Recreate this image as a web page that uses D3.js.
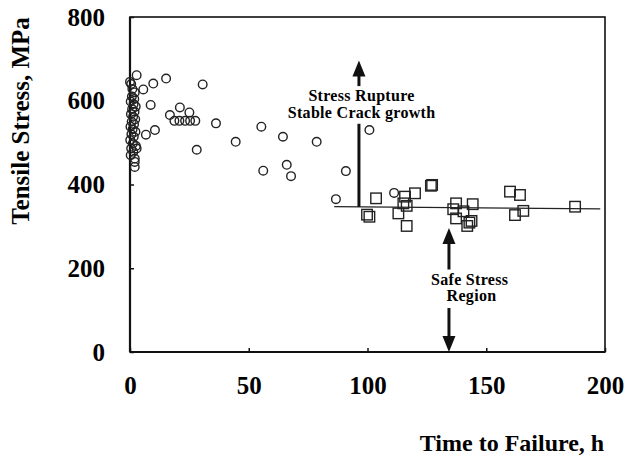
<!DOCTYPE html>
<html><head><meta charset="utf-8">
<script src="https://cdn.jsdelivr.net/npm/d3@7"></script>
<style>body{margin:0;background:#fff}svg{display:block}text{font-family:"Liberation Serif","Times New Roman",serif;font-weight:bold;fill:#000}</style>
</head><body><svg id="c" width="630" height="463"></svg>
<script>
// Stress rupture data (circles): time to failure (h), stress (MPa)
const ruptureTime = [0.5,1,2,0.8,1.8,0.3,1.5,2.4,0.9,1.9,0.4,1.3,2.2,0.7,1.7,0.2,1.1,2.3,0.6,1.6,0.1,1.2,2.5,0.5,1.4,0.3,2.8,2,2,2,
  0,2.8,5.6,9.8,15.2,30.6,8.7,21,25,16.8,18.7,20.8,23.2,25.3,27.5,36.2,55.3,64.4,10.5,6.7,44.5,28.1,56.1,66,67.8,78.6,100.8,90.9,86.7,111.2];
const ruptureStress = [640,628,620,610,604,598,592,586,580,574,568,562,556,550,544,538,532,526,520,514,506,498,492,486,478,470,486,454,442,462,
  645,661,627,641,653,639,590,584,572,566,552,552,552,552,552,546,538,514,530,519,502,483,433,447,420,502,530,432,365,380];
// Safe region data (squares)
const safeTime = [103.6,100.8,99.8,115.8,120,115.1,116.5,113,116.5,126.7,127.2,137.3,136.1,137.3,144.3,140.4,142.9,143.8,142,160,164.2,162.1,165.6,187.4];
const safeStress = [367,323,328,371,379,355,349,331,301,397,399,355,341,319,353,336,309,313,301,383,375,327,337,347];
// Axis ticks
const xTicks = [0,50,100,150,200];
const yTicks = [0,200,400,600,800];
// Threshold lines
const threshTime = [86,198];
const threshStress = [347,342];
const splitTime = 96.4, splitTop = 545;
const safeArrowTime = 134.3;

const svg = d3.select("#c");
const m = {l:130,t:17,r:25,b:111};
const W = 630-m.l-m.r, H = 463-m.t-m.b;
const x = d3.scaleLinear().domain([0,200]).range([m.l,m.l+W]);
const y = d3.scaleLinear().domain([0,800]).range([m.t+H,m.t]);

// frame
svg.append("rect").attr("x",m.l).attr("y",m.t).attr("width",W).attr("height",H)
  .attr("fill","none").attr("stroke","#111").attr("stroke-width",1.6);
svg.append("line").attr("x1",m.l).attr("x2",m.l).attr("y1",m.t).attr("y2",m.t+H).attr("stroke","#111").attr("stroke-width",2.2);
svg.append("line").attr("x1",m.l).attr("x2",m.l+W).attr("y1",m.t+H).attr("y2",m.t+H).attr("stroke","#111").attr("stroke-width",2.2);

// axes (ticks inward, labels)
const yAxis = d3.axisLeft(y).tickValues(yTicks).tickSize(-4).tickPadding(25).tickFormat(d3.format("d"));
const gy = svg.append("g").attr("transform",`translate(${m.l},0)`).call(yAxis);
gy.select(".domain").remove();
gy.selectAll(".tick line").attr("stroke","#111").attr("stroke-width",1.5);
gy.selectAll("text").style("font-size","25px").attr("fill","#000");
const xAxis = d3.axisBottom(x).tickValues(xTicks).tickSize(-4).tickPadding(24).tickFormat(d3.format("d"));
const gx = svg.append("g").attr("transform",`translate(0,${m.t+H})`).call(xAxis);
gx.select(".domain").remove();
gx.selectAll(".tick line").attr("stroke","#111").attr("stroke-width",1.5);
gx.selectAll("text").style("font-size","25px").attr("fill","#000");

// axis titles
svg.append("text").attr("transform","translate(29,121) rotate(-90)").attr("text-anchor","middle")
  .style("font-size","25px").text("Tensile Stress, MPa");
svg.append("text").attr("x",512).attr("y",451).attr("text-anchor","middle")
  .style("font-size","24px").text("Time to Failure, h");

// threshold lines
svg.append("line").attr("x1",x(threshTime[0])).attr("y1",y(threshStress[0]))
  .attr("x2",x(threshTime[1])).attr("y2",y(threshStress[1])).attr("stroke","#222").attr("stroke-width",1.3);
svg.append("line").attr("x1",x(splitTime)).attr("x2",x(splitTime)).attr("y1",y(splitTop)).attr("y2",y(threshStress[0]-0.5))
  .attr("stroke","#111").attr("stroke-width",3);

// arrows
function arrow(xp, yShaft, yTip){
  const dir = yTip<yShaft ? -1 : 1;
  const headLen = 16, hw = 6.5;
  svg.append("line").attr("x1",xp).attr("x2",xp).attr("y1",yShaft).attr("y2",yTip-dir*headLen+dir*1)
    .attr("stroke","#111").attr("stroke-width",3);
  svg.append("path").attr("d",`M${xp},${yTip}L${xp-hw},${yTip-dir*headLen}L${xp+hw},${yTip-dir*headLen}Z`).attr("fill","#111");
}
arrow(x(splitTime), y(635), y(696));
arrow(x(safeArrowTime), y(197), y(296));
arrow(x(safeArrowTime), y(105), y(0));

// annotation text
const ann = [
  {t:"Stress Rupture", tx:97.5, s:600},
  {t:"Stable Crack growth", tx:97.5, s:558},
  {t:"Safe Stress", tx:143, s:160},
  {t:"Region", tx:143.8, s:121}
];
svg.selectAll("text.ann").data(ann).enter().append("text").attr("class","ann")
  .attr("x",d=>x(d.tx)).attr("y",d=>y(d.s)).attr("text-anchor","middle")
  .style("font-size","16px").style("letter-spacing","0.3px").text(d=>d.t);

// data points
svg.append("g").selectAll("circle").data(ruptureTime.map((t,i)=>[t,ruptureStress[i]])).enter().append("circle")
  .attr("cx",d=>x(d[0])).attr("cy",d=>y(d[1])).attr("r",4.3)
  .attr("fill","none").attr("stroke","#222").attr("stroke-width",1.4);
const sq = 10.5;
svg.append("g").selectAll("rect").data(safeTime.map((t,i)=>[t,safeStress[i]])).enter().append("rect")
  .attr("x",d=>x(d[0])-sq/2).attr("y",d=>y(d[1])-sq/2).attr("width",sq).attr("height",sq)
  .attr("fill","none").attr("stroke","#222").attr("stroke-width",1.4);
</script></body></html>
